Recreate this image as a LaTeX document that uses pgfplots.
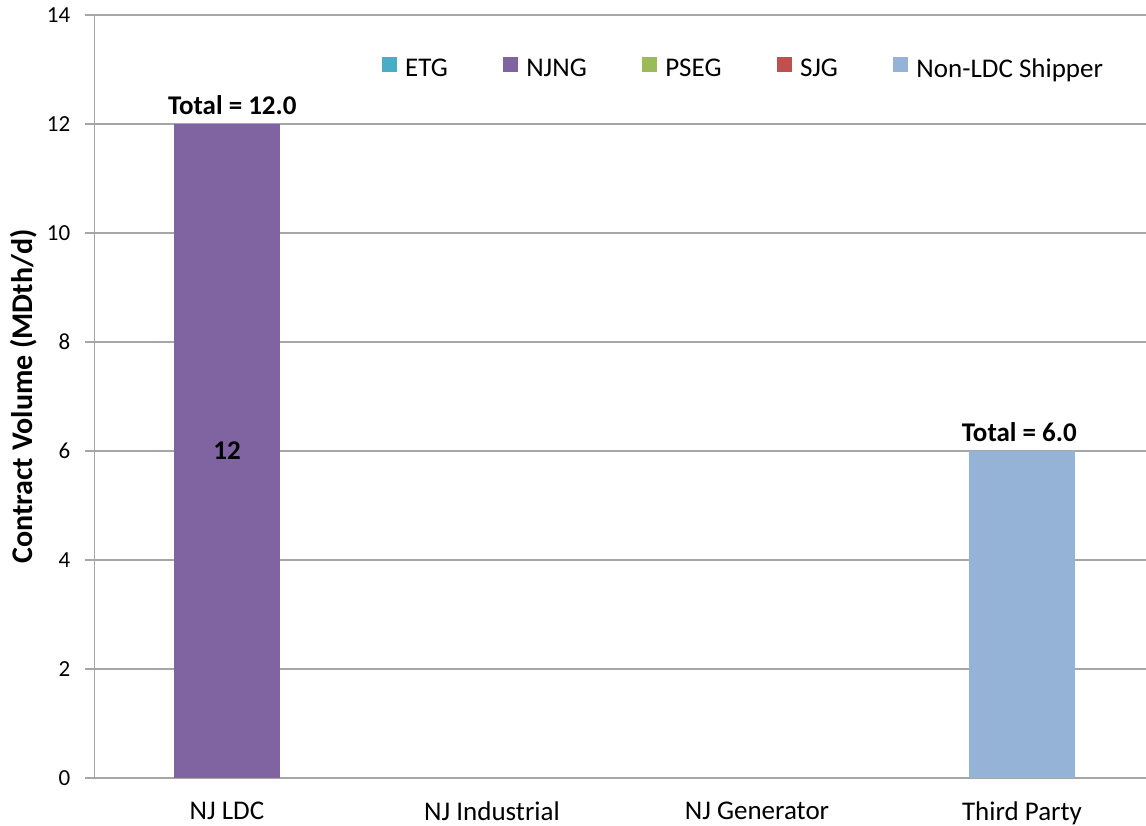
\documentclass[border=0pt]{standalone}
\usepackage{pgfplots}
\pgfplotsset{compat=1.18}
\usepackage{fontspec}
\setmainfont{Carlito}
\definecolor{cETG}{HTML}{4BACC6}
\definecolor{cNJNG}{HTML}{8064A2}
\definecolor{cPSEG}{HTML}{9BBB59}
\definecolor{cSJG}{HTML}{C0504D}
\definecolor{cNon}{HTML}{95B3D7}
\definecolor{gridc}{HTML}{A6A6A6}
\newcommand{\tf}{\fontsize{23}{27}\selectfont}
\newcommand{\lf}{\fontsize{27}{31}\selectfont}
\begin{document}
\begin{tikzpicture}
\path[use as bounding box] (-94.5pt,-48pt) rectangle (1051.5pt,778pt);
\begin{axis}[
  at={(0pt,0pt)}, anchor=south west,
  scale only axis, width=1051.5pt, height=763pt,
  xmin=-0.5, xmax=3.468, ymin=0, ymax=14,
  ybar stacked, bar width=106pt,
  axis x line=bottom, axis y line=left,
  axis line style={-, draw=gridc, line width=1.3pt},
  ymajorgrids, grid style={draw=gridc, line width=1.3pt},
  ytick={0,2,...,14},
  xtick={0,1,2,3},
  xticklabels={NJ LDC, NJ Industrial, NJ Generator, Third Party},
  x tick style={draw=none},
  extra x ticks={-0.5,0.5,1.5,2.5},
  extra x tick labels={},
  extra x tick style={tick style={draw=gridc, line width=1.3pt}, major tick length=8pt, tick align=outside, xmajorgrids=false},
  y tick style={draw=gridc, line width=1.3pt},
  major tick length=9pt, tick align=outside,
  /pgf/number format/assume math mode=true,
  yticklabel style={font=\tf, anchor=east, inner sep=0pt, xshift=-15pt},
  xticklabel style={font=\lf, anchor=north, inner sep=0pt, yshift=-15pt},
  ylabel={\textbf{Contract Volume (MDth/d)}},
  ylabel style={font=\fontsize{30}{34}\selectfont, at={(axis description cs:-0.067,0.5)}, rotate=0, anchor=center},
  legend columns=5,
  legend style={draw=none, fill=none, inner sep=0pt, font=\lf,
    at={(rel axis cs:0.2734,0.931)}, anchor=west,
    nodes={inner sep=0pt},
    /tikz/every odd column/.append style={column sep=8pt},
    /tikz/every even column/.append style={column sep=55.5pt}},
  legend image code/.code={\fill[#1] (0pt,-3pt) rectangle (15pt,12pt);},
]
\addlegendimage{fill=cETG, draw=none}
\addlegendentry{ETG}
\addlegendimage{fill=cNJNG, draw=none}
\addlegendentry{NJNG}
\addlegendimage{fill=cPSEG, draw=none}
\addlegendentry{PSEG}
\addlegendimage{fill=cSJG, draw=none}
\addlegendentry{SJG}
\addlegendimage{fill=cNon, draw=none}
\addlegendentry{Non-LDC Shipper}
\addplot[fill=cNJNG, draw=none, forget plot] coordinates {(0,12) (1,0) (2,0) (3,0)};
\addplot[fill=cNon, draw=none, forget plot] coordinates {(0,0) (1,0) (2,0) (3,6)};
\coordinate (c12) at (axis cs:0,6);
\node[font=\lf\bfseries, anchor=base, inner sep=0pt] at ([yshift=9pt]axis cs:0.02,12) {Total = 12.0};
\node[font=\lf\bfseries, anchor=base, inner sep=0pt] at ([yshift=9pt]axis cs:2.99,6) {Total = 6.0};
\end{axis}
\node[font=\lf\bfseries] at (c12) {12};
\end{tikzpicture}
\end{document}
